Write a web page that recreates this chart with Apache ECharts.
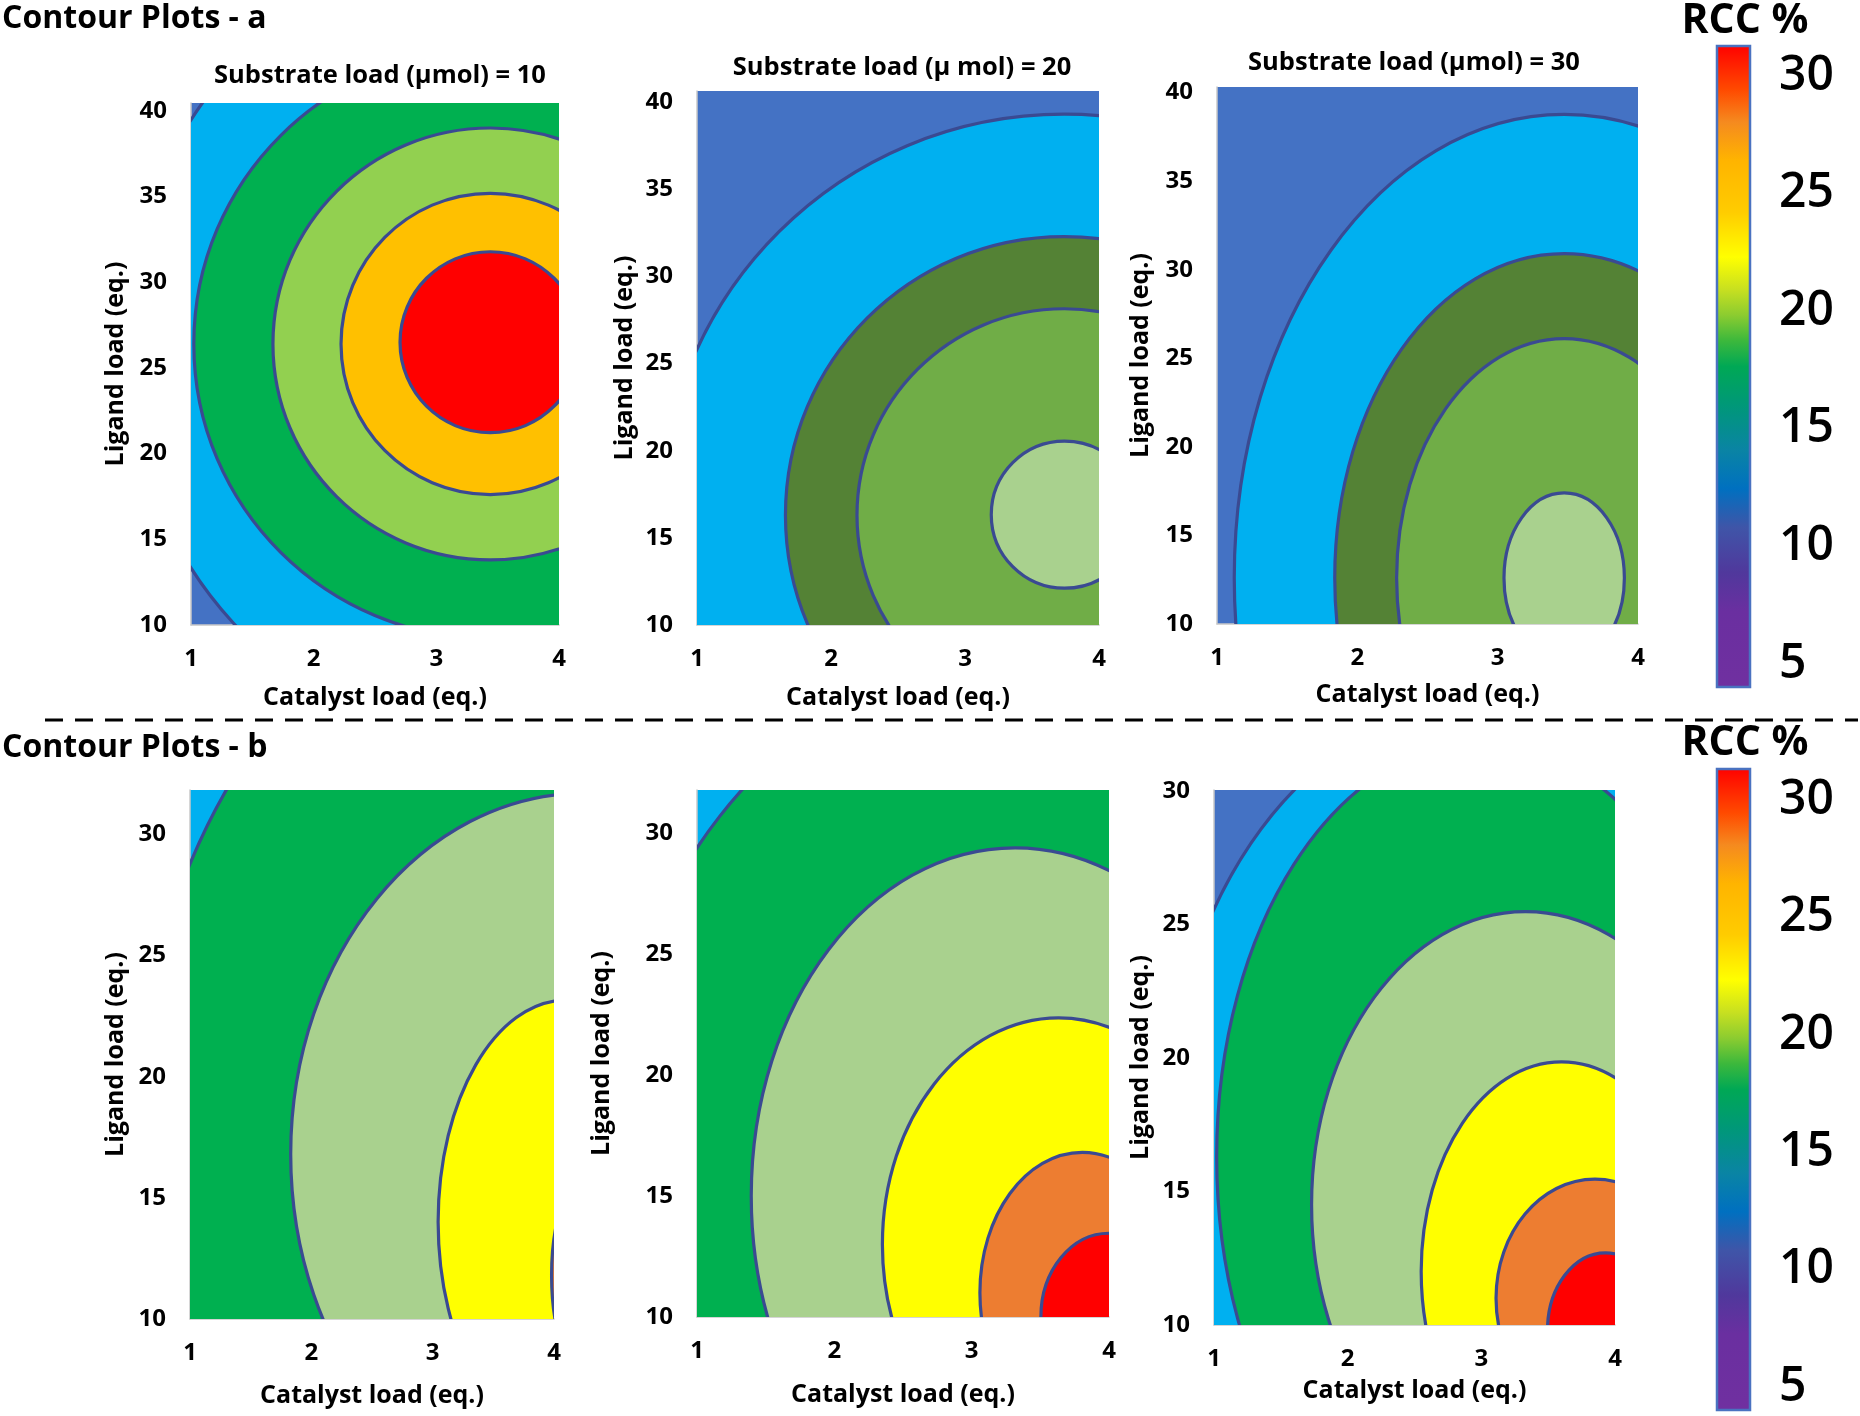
<!DOCTYPE html>
<html><head><meta charset="utf-8">
<script src="https://cdn.jsdelivr.net/npm/echarts@6/dist/echarts.min.js"></script>
<style>html,body{margin:0;padding:0;background:#fff}#c{width:1860px;height:1416px}</style>
</head><body><div id="c"></div>
<script>
// RCC % contour panels: catalyst load (x) vs ligand load (y), plus two RCC % keys.
const catalystTicks = [1, 2, 3, 4];
const ligandTicksA = [10, 15, 20, 25, 30, 35, 40];
const ligandTicksB = [10, 15, 20, 25, 30];
const rccTicks = [5, 10, 15, 20, 25, 30];
const titlesA = ['Substrate load (µmol) = 10', 'Substrate load (µ mol) = 20', 'Substrate load (µmol) = 30'];
const ligandMax = [40.46, 40.63, 40.31, 31.83, 31.77, 30.03];
const rccRangeA = [4.02, 31.27];
const rccRangeB = [4.03, 31.33];

// contour ellipses, outermost first: [catalyst centre, ligand centre, catalyst half-axis, ligand half-axis]
const contoursA1 = [[3.44, 26.4, 2.963, 23.03], [3.44, 26.4, 2.417, 17.2], [3.44, 26.4, 1.772, 12.6],
  [3.44, 26.4, 1.217, 8.79], [3.44, 26.5, 0.736, 5.28]];
const contoursA2 = [[3.74, 16.3, 3.009, 23.0], [3.74, 16.3, 2.08, 15.98], [3.74, 16.3, 1.546, 11.84],
  [3.743, 16.33, 0.547, 4.22]];
const contoursA3 = [[3.474, 12.6, 2.351, 26.16], [3.474, 12.6, 1.635, 18.31], [3.474, 12.6, 1.194, 13.51],
  [3.474, 12.6, 0.429, 4.8]];
const contoursB1 = [[4.25, 16.8, 3.713, 24.75], [4.25, 16.8, 2.42, 14.9], [4.1, 14.0, 1.055, 9.16],
  [4.28, 11.8, 0.3, 4.18]];
const contoursB2 = [[3.316, 15.0, 3.044, 22.16], [3.316, 15.0, 1.921, 14.38], [3.633, 13.0, 1.283, 9.36],
  [3.806, 11.0, 0.746, 5.8], [4.0, 10.0, 0.496, 3.46]];
const contoursB3 = [[2.9, 16.0, 2.297, 17.01], [3.0, 16.3, 1.98, 15.5], [3.33, 14.5, 1.6, 10.98],
  [3.6, 12.0, 1.05, 7.85], [3.85, 11.0, 0.74, 4.46], [3.93, 9.8, 0.435, 2.9]];

// styles
const FONT = '"Open Sans", sans-serif';
const LINE = '#3A4A92';
const K = {blue:'#4472C4', sky:'#00B0F0', green:'#00B050', lime:'#92D050', gold:'#FFC000', red:'#FF0000',
  dgreen:'#548235', mgreen:'#70AD47', pale:'#A9D18E', yellow:'#FFFF00', orange:'#ED7D31'};
const RAMP = [[0, '#FF0000'], [0.07, '#FF4A00'], [0.12, '#F58A1F'], [0.18, '#FFB400'], [0.26, '#FFCC00'],
  [0.33, '#FFFF00'], [0.38, '#C8E020'], [0.42, '#8CCC30'], [0.46, '#3CB83C'], [0.5, '#00A855'],
  [0.56, '#009878'], [0.63, '#0A84A4'], [0.69, '#0070C0'], [0.75, '#3F55A8'], [0.82, '#50389C'],
  [0.88, '#6A2FA0'], [1, '#7030A0']];

const panels = [
  {data: contoursA1, ticks: ligandTicksA, base: K.blue, fills: [K.sky, K.green, K.lime, K.gold, K.red],
    grid: {left: 191, top: 103, width: 368, height: 522}, xGap: 60, yGap: 63},
  {data: contoursA2, ticks: ligandTicksA, base: K.blue, fills: [K.sky, K.dgreen, K.mgreen, K.pale],
    grid: {left: 697, top: 91, width: 402, height: 534}, xGap: 60, yGap: 60},
  {data: contoursA3, ticks: ligandTicksA, base: K.blue, fills: [K.sky, K.dgreen, K.mgreen, K.pale],
    grid: {left: 1217, top: 87, width: 421, height: 537}, xGap: 58, yGap: 64},
  {data: contoursB1, ticks: ligandTicksB, base: K.sky, fills: [K.green, K.pale, K.yellow, K.orange],
    grid: {left: 190, top: 790, width: 364, height: 529}, xGap: 64, yGap: 62},
  {data: contoursB2, ticks: ligandTicksB, base: K.sky, fills: [K.green, K.pale, K.yellow, K.orange, K.red],
    grid: {left: 697, top: 790, width: 412, height: 527}, xGap: 65, yGap: 83},
  {data: contoursB3, ticks: ligandTicksB, base: K.blue, fills: [K.sky, K.green, K.pale, K.yellow, K.orange, K.red],
    grid: {left: 1214, top: 790, width: 401, height: 535}, xGap: 53, yGap: 61}
];
const keys = [{range: rccRangeA, top: 46}, {range: rccRangeB, top: 769}];

const lab = {fontSize: 25, fontWeight: 'bold', color: '#000', fontFamily: FONT};
const tick = {fontSize: 24, fontWeight: 'bold', color: '#000', fontFamily: FONT};
const grid = [], xAxis = [], yAxis = [], series = [];

panels.forEach((p, i) => {
  grid.push(Object.assign({show: true, backgroundColor: p.base, borderWidth: 0}, p.grid));
  xAxis.push({gridIndex: i, type: 'value', min: 1, max: 4, name: 'Catalyst load (eq.)', nameLocation: 'middle',
    nameGap: p.xGap, nameTextStyle: lab, axisTick: {show: false}, splitLine: {show: false},
    axisLine: {show: true, onZero: false, lineStyle: {color: '#C8C8C8', width: 1.5}},
    axisLabel: Object.assign({customValues: catalystTicks, margin: 22}, tick)});
  yAxis.push({gridIndex: i, type: 'value', min: 10, max: ligandMax[i], name: 'Ligand load (eq.)', nameLocation: 'middle',
    nameGap: p.yGap, nameTextStyle: lab, axisTick: {show: false}, splitLine: {show: false},
    axisLine: {show: true, onZero: false, lineStyle: {color: '#C8C8C8', width: 1.5}},
    axisLabel: Object.assign({customValues: p.ticks, margin: 24}, tick)});
  series.push({type: 'custom', xAxisIndex: i, yAxisIndex: i, clip: true, silent: true,
    encode: {x: 0, y: 1}, data: p.data,
    renderItem: (params, api) => {
      const v = [api.value(0), api.value(1)];
      const c = api.coord(v), s = api.size([api.value(2), api.value(3)], v);
      return {type: 'ellipse', shape: {cx: c[0], cy: c[1], rx: s[0], ry: s[1]},
        style: {fill: p.fills[params.dataIndex], stroke: LINE, lineWidth: 3.2}};
    }});
});

keys.forEach((k, j) => {
  const gi = panels.length + j;
  grid.push({left: 1717, top: k.top, width: 33, height: 641});
  xAxis.push({gridIndex: gi, type: 'value', min: 0, max: 1, show: false});
  yAxis.push({gridIndex: gi, type: 'value', position: 'right', min: k.range[0], max: k.range[1],
    axisLine: {show: false}, axisTick: {show: false}, splitLine: {show: false},
    axisLabel: {customValues: rccTicks, margin: 29, fontSize: 48, fontWeight: 600, color: '#000', fontFamily: FONT}});
  series.push({type: 'custom', xAxisIndex: gi, yAxisIndex: gi, silent: true, encode: {x: [0, 2], y: [1, 3]},
    data: [[0, k.range[0], 1, k.range[1]]],
    renderItem: (params, api) => {
      const a = api.coord([api.value(0), api.value(3)]), b = api.coord([api.value(2), api.value(1)]);
      return {type: 'rect', shape: {x: a[0], y: a[1], width: b[0] - a[0], height: b[1] - a[1]},
        style: {fill: {type: 'linear', x: 0, y: 0, x2: 0, y2: 1,
          colorStops: RAMP.map(r => ({offset: r[0], color: r[1]}))}, stroke: '#4A72C0', lineWidth: 2.5}};
    }});
});

const txt = (text, x, y, size, align) => ({type: 'text', x, y, silent: true,
  style: {text, fontSize: size, fontWeight: 'bold', fontFamily: FONT, fill: '#000',
    align: align || 'center', verticalAlign: 'middle'}});
const graphic = [
  txt('Contour Plots - a', 2, 19, 32, 'left'),
  txt('Contour Plots - b', 2, 748, 32, 'left'),
  txt(titlesA[0], 380, 76, 25.5), txt(titlesA[1], 902, 68, 25.5), txt(titlesA[2], 1414, 63, 25.5),
  txt('RCC %', 1745, 21, 41), txt('RCC %', 1745, 743, 41),
  {type: 'line', silent: true, shape: {x1: 45, y1: 720, x2: 1858, y2: 720},
    style: {stroke: '#000', lineWidth: 3, lineDash: [18, 12]}}
];

const chart = echarts.init(document.getElementById('c'), null, {renderer: 'canvas'});
chart.setOption({animation: false, backgroundColor: '#fff', grid, xAxis, yAxis, series, graphic});
</script></body></html>
